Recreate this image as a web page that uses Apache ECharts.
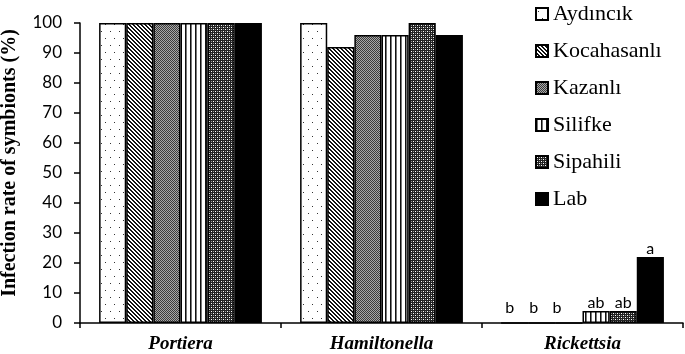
<!DOCTYPE html>
<html>
<head>
<meta charset="utf-8">
<script src="https://cdn.jsdelivr.net/npm/echarts@6/dist/echarts.min.js"></script>
<style>
  html, body { margin: 0; padding: 0; background: #fff; }
  #chart { width: 685px; height: 354px; }
</style>
</head>
<body>
<div id="chart"></div>
<script>
const categories = ['Portiera', 'Hamiltonella', 'Rickettsia'];
const seriesNames = ['Aydıncık', 'Kocahasanlı', 'Kazanlı', 'Silifke', 'Sipahili', 'Lab'];
// values per series: [Portiera, Hamiltonella, Rickettsia]
const aydincik = [100, 100, 0];
const kocahasanli = [100, 92, 0];
const kazanli = [100, 96, 0];
const silifke = [100, 96, 4];
const sipahili = [100, 100, 4];
const lab = [100, 96, 22];
const rickettsiaLetters = ['b', 'b', 'b', 'ab', 'ab', 'a'];
const yTicks = [0, 10, 20, 30, 40, 50, 60, 70, 80, 90, 100];

const seriesValues = [aydincik, kocahasanli, kazanli, silifke, sipahili, lab];

// the letters over the zero bars sit a little left and up in the original
const letterShift = [[-5, -6], [-8, -6], [-12, -6], [0, 0], [0, 0], [0, 0]];

// small canvas tiles used as hatch fills
function tile(w, h, bg, draw) {
  const c = document.createElement('canvas');
  c.width = w; c.height = h;
  const ctx = c.getContext('2d');
  ctx.fillStyle = bg;
  ctx.fillRect(0, 0, w, h);
  draw(ctx);
  return c;
}
const px = (ctx, col, pts) => { ctx.fillStyle = col; pts.forEach(p => ctx.fillRect(p[0], p[1], 1, 1)); };

const patterns = [
  tile(9, 14, '#fff', ctx => px(ctx, '#333', [[2, 3], [6, 10]])),
  tile(4, 4, '#fff', ctx => px(ctx, '#111', [[0, 0], [1, 0], [1, 1], [2, 1], [2, 2], [3, 2], [3, 3], [0, 3]])),
  tile(2, 2, '#a8a8a8', ctx => px(ctx, '#3c3c3c', [[0, 0], [1, 1]])),
  tile(5, 1, '#fff', ctx => { px(ctx, '#111', [[0, 0]]); px(ctx, '#777', [[1, 0]]); }),
  tile(4, 4, '#222', ctx => { px(ctx, '#fff', [[1, 1], [3, 3]]); px(ctx, '#999', [[3, 1], [1, 3]]); }),
  null
];

const series = seriesNames.map((name, i) => ({
  name,
  type: 'bar',
  barGap: '0%',
  barCategoryGap: '19%',
  itemStyle: {
    color: patterns[i] ? { image: patterns[i], repeat: 'repeat' } : '#000',
    borderColor: '#000',
    borderWidth: 1.5
  },
  data: seriesValues[i].map((v, j) => j === 2 ? {
    value: v,
    label: {
      show: true,
      position: 'top',
      distance: 0,
      offset: letterShift[i],
      formatter: rickettsiaLetters[i],
      color: '#000',
      fontSize: 16,
      fontFamily: 'Lato, sans-serif'
    }
  } : v)
}));

const chart = echarts.init(document.getElementById('chart'));
chart.setOption({
  animation: false,
  grid: { left: 80, right: 2, top: 23, bottom: 31, outerBoundsMode: 'none' },
  legend: {
    orient: 'vertical',
    left: 530,
    top: -2,
    itemWidth: 12,
    itemHeight: 12,
    itemGap: 15,
    icon: 'rect',
    textStyle: { color: '#000', fontSize: 22, fontFamily: 'Liberation Serif' },
    data: seriesNames
  },
  xAxis: {
    type: 'category',
    data: categories,
    axisLine: { lineStyle: { color: '#000', width: 1.5 } },
    axisTick: { show: true, length: 5, lineStyle: { color: '#000', width: 1.5 } },
    axisLabel: {
      color: '#000',
      fontSize: 19,
      fontWeight: 'bold',
      fontStyle: 'italic',
      fontFamily: 'Liberation Serif',
      margin: 12
    }
  },
  yAxis: {
    type: 'value',
    min: yTicks[0],
    max: yTicks[yTicks.length - 1],
    interval: 10,
    name: 'Infection rate of symbionts (%)',
    nameLocation: 'middle',
    nameGap: 60,
    nameTextStyle: {
      color: '#000', fontSize: 20, fontWeight: 'bold', fontFamily: 'Liberation Serif',
      padding: [0, 0, 0, 20]
    },
    axisLine: { show: true, lineStyle: { color: '#000', width: 1.5 } },
    axisTick: { show: true, length: 6, lineStyle: { color: '#000', width: 1.5 } },
    splitLine: { show: false },
    axisLabel: { color: '#000', fontSize: 17, fontFamily: 'Lato, sans-serif', margin: 18 }
  },
  series
});
</script>
</body>
</html>
